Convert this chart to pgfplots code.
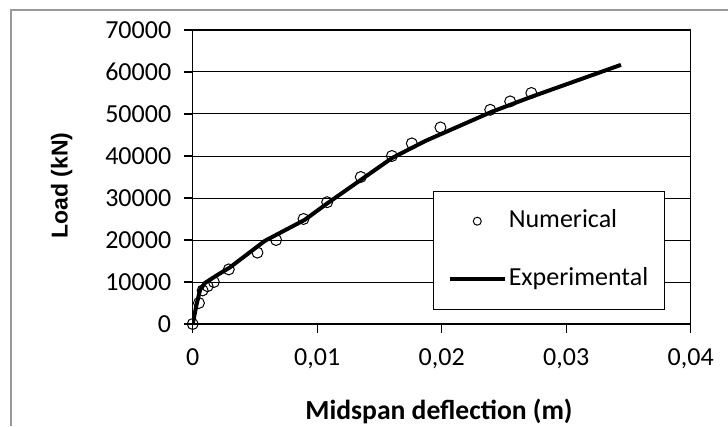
\documentclass[border=0pt]{standalone}
\usepackage{pgfplots}
\pgfplotsset{compat=1.18}
\usepackage{fontspec}
\setmainfont{Carlito}
\newfontfamily\arialbold{Liberation Sans Bold}

\begin{document}
\begin{tikzpicture}
	\begin{axis}[
		at={(192.7pt,102pt)},
		anchor=south west,
		scale only axis,
		width=498pt,
		height=294pt,
		xmin=0, xmax=0.04,
		ymin=0, ymax=70000,
		scaled ticks=false,
		xtick={0,0.01,0.02,0.03,0.04},
		xticklabels={0,{0,01},{0,02},{0,03},{0,04}},
		ytick={0,10000,20000,30000,40000,50000,60000,70000},
		yticklabels={0,10000,20000,30000,40000,50000,60000,70000},
		tick pos=left,
		tick align=outside,
		major tick length=9pt,
		tick style={black, line width=1.2pt},
		axis line style={black, line width=1.5pt},
		ymajorgrids,
		major grid style={black, line width=1pt},
		ticklabel style={font=\fontsize{26}{30}\selectfont},
		xticklabel style={yshift=-12pt},
		yticklabel style={xshift=-9pt},
		xlabel={\bfseries Midspan deflection (m)},
		xlabel style={at={(axis description cs:0.4946,-0.299)}, anchor=center, font=\fontsize{27.6}{32}\selectfont},
		ylabel={Load\ (kN)},
		ylabel style={at={(axis description cs:-0.263,0.471)}, anchor=center, font=\fontsize{23}{27}\selectfont\arialbold},
		legend style={at={(0.948,0.4534)}, anchor=north east, draw=black, line width=1pt, fill=white,
			font=\fontsize{26}{30}\selectfont, inner xsep=14pt, inner ysep=18pt, row sep=34pt,
			nodes={inner xsep=2pt, inner ysep=0pt, text height=18pt, text depth=6pt}},
		legend cell align=left,
	]

	% numerical results
	\addplot[only marks, mark=o, mark size=5.5pt, mark options={line width=1pt, black},
		legend image code/.code={\path[draw=none] (0pt,0pt) -- (55pt,0pt);
			\path[draw=none, mark=o, mark size=4pt, mark options={draw=black, line width=1pt}] plot coordinates {(27.5pt,0pt)};}]
	coordinates {
		(0,0) (0.0005,5000) (0.0008,8000) (0.0012,9000) (0.0017,10000)
		(0.0029,13000) (0.0052,17000) (0.0067,20000) (0.0089,25000)
		(0.0108,29000) (0.0135,35000) (0.016,40000) (0.0176,43000)
		(0.0199,46800) (0.0239,51000) (0.0255,53000) (0.0272,55000)
	};
	\addlegendentry{Numerical}

	% experimental curve
	\addplot[black, line width=4pt, line join=round,
		legend image code/.code={\draw[black, line width=4pt] (0pt,0pt) -- (55pt,0pt);}]
	coordinates {
		(0,0) (0.0003,4500) (0.0006,8200) (0.001,9800) (0.002,11700)
		(0.003,13500) (0.0058,19800) (0.009,24800) (0.0108,28700)
		(0.0135,34300) (0.016,39500) (0.0187,43600) (0.024,50500)
		(0.0273,54200) (0.0344,61700)
	};
	\addlegendentry{Experimental}

	% box on top and right
	\draw[black, line width=1.5pt] (rel axis cs:0,1) -- (rel axis cs:1,1) -- (rel axis cs:1,0);
	\end{axis}
	\draw[gray!80, line width=1.3pt] (11pt,0pt) -- (11pt,416pt) -- (728pt,416pt);
	\pgfresetboundingbox
	\useasboundingbox (0pt,0pt) rectangle (728pt,426pt);
\end{tikzpicture}
\end{document}
